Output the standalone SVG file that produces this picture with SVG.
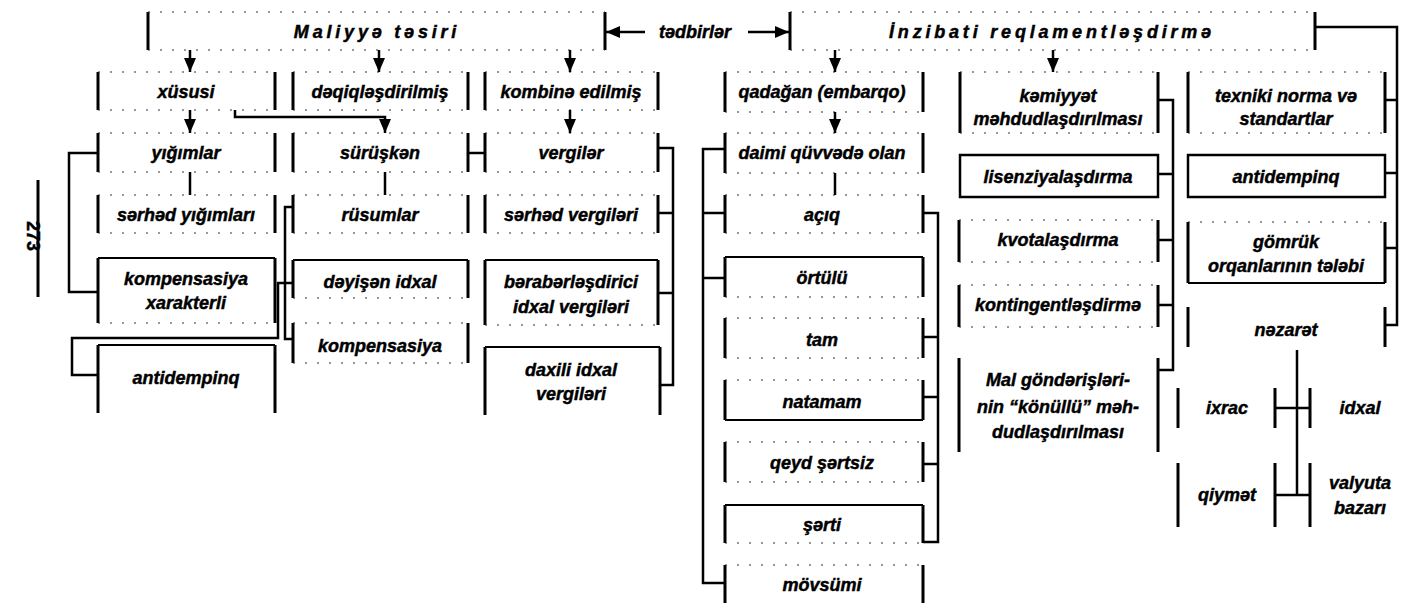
<svg xmlns="http://www.w3.org/2000/svg" width="1404" height="603" viewBox="0 0 1404 603">
<style>
.s{stroke:#000;stroke-width:3;stroke-linecap:butt}
.d{stroke:#333;stroke-width:1.2;stroke-dasharray:2 10}
.t{stroke:#000;stroke-width:2.2}
.c{stroke:#000;stroke-width:2.5;fill:none}
.a{stroke:#000;stroke-width:2.5;fill:none;marker-end:url(#ah)}
text{font-family:"Liberation Sans",Arial,sans-serif;font-weight:bold;font-style:italic;font-size:18px;fill:#000;stroke:#000;stroke-width:0.45;text-anchor:middle}
.hd{letter-spacing:3.8px}
</style>
<defs>
<marker id="ah" markerUnits="userSpaceOnUse" markerWidth="14" markerHeight="12" refX="14" refY="6" orient="auto">
<path d="M0,0 L14,6 L0,12 z" fill="#000"/>
</marker>
</defs>
<rect width="1404" height="603" fill="#fff"/>

<g id="page-number">
<line class="s" x1="38" y1="180" x2="38" y2="297"/>
<text x="27" y="236" transform="rotate(90 27 236)" style="font-style:normal">273</text>
</g>

<g id="maliyye-tesiri">
<line class="s" x1="148" y1="12" x2="148" y2="50"/><line class="s" x1="605" y1="12" x2="605" y2="50"/>
<line class="d" x1="148" y1="12" x2="605" y2="12"/><line class="d" x1="148" y1="50" x2="605" y2="50"/>
<text class="hd" x="377" y="38">Maliyyə təsiri</text>
</g>
<g id="tedbirler"><text x="695" y="38">tədbirlər</text></g>
<g id="inzibati">
<line class="s" x1="790" y1="12" x2="790" y2="50"/><line class="s" x1="1315" y1="12" x2="1315" y2="50"/>
<line class="d" x1="790" y1="12" x2="1315" y2="12"/><line class="d" x1="790" y1="50" x2="1315" y2="50"/>
<text class="hd" x="1052" y="38">İnzibati reqlamentləşdirmə</text>
</g>

<!-- column A -->
<g id="xususi">
<line class="s" x1="98" y1="72" x2="98" y2="110"/><line class="s" x1="275" y1="72" x2="275" y2="110"/>
<line class="d" x1="98" y1="72" x2="275" y2="72"/><line class="d" x1="98" y1="110" x2="275" y2="110"/>
<text x="186" y="98">xüsusi</text>
</g>
<g id="yigimlar">
<line class="s" x1="98" y1="133" x2="98" y2="172"/><line class="s" x1="275" y1="133" x2="275" y2="172"/>
<line class="d" x1="98" y1="133" x2="275" y2="133"/><line class="d" x1="98" y1="172" x2="275" y2="172"/>
<text x="186" y="159">yığımlar</text>
</g>
<g id="serhed-yigimlari">
<line class="s" x1="98" y1="195" x2="98" y2="233"/><line class="s" x1="275" y1="195" x2="275" y2="233"/>
<line class="d" x1="98" y1="195" x2="275" y2="195"/><line class="d" x1="98" y1="233" x2="275" y2="233"/>
<text x="186" y="221">sərhəd yığımları</text>
</g>
<g id="kompensasiya-xarakterli">
<line class="s" x1="98" y1="258" x2="98" y2="323"/><line class="s" x1="275" y1="258" x2="275" y2="323"/>
<line class="t" x1="98" y1="258" x2="275" y2="258"/><line class="d" x1="98" y1="323" x2="275" y2="323"/>
<text x="186" y="285">kompensasiya</text><text x="186" y="309">xarakterli</text>
</g>
<g id="antidempinq-a">
<line class="s" x1="98" y1="345" x2="98" y2="413"/><line class="s" x1="275" y1="345" x2="275" y2="413"/>
<line class="t" x1="98" y1="345" x2="275" y2="345"/>
<text x="186" y="384">antidempinq</text>
</g>

<!-- column B -->
<g id="deqiqlesdirilmis">
<line class="s" x1="293" y1="72" x2="293" y2="110"/><line class="s" x1="468" y1="72" x2="468" y2="110"/>
<line class="d" x1="293" y1="72" x2="468" y2="72"/><line class="d" x1="293" y1="110" x2="468" y2="110"/>
<text x="380" y="98">dəqiqləşdirilmiş</text>
</g>
<g id="suruskan">
<line class="s" x1="293" y1="133" x2="293" y2="172"/><line class="s" x1="468" y1="133" x2="468" y2="172"/>
<line class="d" x1="293" y1="133" x2="468" y2="133"/><line class="d" x1="293" y1="172" x2="468" y2="172"/>
<text x="380" y="159">sürüşkən</text>
</g>
<g id="rusumlar">
<line class="s" x1="293" y1="195" x2="293" y2="233"/><line class="s" x1="468" y1="195" x2="468" y2="233"/>
<line class="d" x1="293" y1="195" x2="468" y2="195"/><line class="d" x1="293" y1="233" x2="468" y2="233"/>
<text x="380" y="221">rüsumlar</text>
</g>
<g id="deyisen-idxal">
<line class="s" x1="293" y1="260" x2="293" y2="298"/><line class="s" x1="468" y1="260" x2="468" y2="298"/>
<line class="t" x1="293" y1="260" x2="468" y2="260"/><line class="d" x1="293" y1="298" x2="468" y2="298"/>
<text x="380" y="288">dəyişən idxal</text>
</g>
<g id="kompensasiya">
<line class="s" x1="293" y1="323" x2="293" y2="363"/><line class="s" x1="468" y1="323" x2="468" y2="363"/>
<line class="d" x1="293" y1="323" x2="468" y2="323"/><line class="d" x1="293" y1="363" x2="468" y2="363"/>
<text x="380" y="352">kompensasiya</text>
</g>

<!-- column C -->
<g id="kombine-edilmis">
<line class="s" x1="485" y1="72" x2="485" y2="110"/><line class="s" x1="658" y1="72" x2="658" y2="110"/>
<line class="d" x1="485" y1="72" x2="658" y2="72"/><line class="d" x1="485" y1="110" x2="658" y2="110"/>
<text x="571" y="98">kombinə edilmiş</text>
</g>
<g id="vergiler">
<line class="s" x1="485" y1="133" x2="485" y2="172"/><line class="s" x1="658" y1="133" x2="658" y2="172"/>
<line class="d" x1="485" y1="133" x2="658" y2="133"/><line class="d" x1="485" y1="172" x2="658" y2="172"/>
<text x="571" y="159">vergilər</text>
</g>
<g id="serhed-vergileri">
<line class="s" x1="485" y1="195" x2="485" y2="233"/><line class="s" x1="658" y1="195" x2="658" y2="233"/>
<line class="d" x1="485" y1="195" x2="658" y2="195"/><line class="d" x1="485" y1="233" x2="658" y2="233"/>
<text x="571" y="221">sərhəd vergiləri</text>
</g>
<g id="beraberlesdirici">
<line class="s" x1="485" y1="260" x2="485" y2="325"/><line class="s" x1="658" y1="260" x2="658" y2="325"/>
<line class="t" x1="485" y1="260" x2="658" y2="260"/><line class="d" x1="485" y1="325" x2="658" y2="325"/>
<text x="571" y="288">bərabərləşdirici</text><text x="571" y="313">idxal vergiləri</text>
</g>
<g id="daxili-idxal">
<line class="s" x1="485" y1="347" x2="485" y2="415"/><line class="s" x1="660" y1="347" x2="660" y2="415"/>
<line class="t" x1="485" y1="347" x2="660" y2="347"/>
<text x="571" y="376">daxili idxal</text><text x="571" y="400">vergiləri</text>
</g>

<!-- column D -->
<g id="qadagan">
<line class="s" x1="725" y1="72" x2="725" y2="112"/><line class="s" x1="923" y1="72" x2="923" y2="112"/>
<line class="d" x1="725" y1="72" x2="923" y2="72"/><line class="d" x1="725" y1="112" x2="923" y2="112"/>
<text x="822" y="98">qadağan (embarqo)</text>
</g>
<g id="daimi">
<line class="s" x1="725" y1="133" x2="725" y2="173"/><line class="s" x1="923" y1="133" x2="923" y2="173"/>
<line class="d" x1="725" y1="133" x2="923" y2="133"/><line class="d" x1="725" y1="173" x2="923" y2="173"/>
<text x="822" y="159">daimi qüvvədə olan</text>
</g>
<g id="aciq">
<line class="s" x1="725" y1="195" x2="725" y2="233"/><line class="s" x1="923" y1="195" x2="923" y2="233"/>
<line class="d" x1="725" y1="195" x2="923" y2="195"/><line class="d" x1="725" y1="233" x2="923" y2="233"/>
<text x="822" y="221">açıq</text>
</g>
<g id="ortulu">
<line class="s" x1="725" y1="257" x2="725" y2="297"/><line class="s" x1="923" y1="257" x2="923" y2="297"/>
<line class="t" x1="725" y1="257" x2="923" y2="257"/><line class="d" x1="725" y1="297" x2="923" y2="297"/>
<text x="822" y="284">örtülü</text>
</g>
<g id="tam">
<line class="s" x1="725" y1="318" x2="725" y2="358"/><line class="s" x1="923" y1="318" x2="923" y2="358"/>
<line class="d" x1="725" y1="318" x2="923" y2="318"/><line class="d" x1="725" y1="358" x2="923" y2="358"/>
<text x="822" y="346">tam</text>
</g>
<g id="natamam">
<line class="s" x1="725" y1="380" x2="725" y2="420"/><line class="s" x1="923" y1="380" x2="923" y2="420"/>
<line class="d" x1="725" y1="380" x2="923" y2="380"/><line class="t" x1="725" y1="420" x2="923" y2="420"/>
<text x="822" y="408">natamam</text>
</g>
<g id="qeyd-sertsiz">
<line class="s" x1="725" y1="442" x2="725" y2="482"/><line class="s" x1="923" y1="442" x2="923" y2="482"/>
<line class="d" x1="725" y1="442" x2="923" y2="442"/><line class="d" x1="725" y1="482" x2="923" y2="482"/>
<text x="822" y="469">qeyd şərtsiz</text>
</g>
<g id="serti">
<line class="s" x1="725" y1="505" x2="725" y2="543"/><line class="s" x1="923" y1="505" x2="923" y2="543"/>
<line class="t" x1="725" y1="505" x2="923" y2="505"/><line class="d" x1="725" y1="543" x2="923" y2="543"/>
<text x="822" y="531">şərti</text>
</g>
<g id="movsumi">
<line class="s" x1="725" y1="565" x2="725" y2="603"/><line class="s" x1="923" y1="565" x2="923" y2="603"/>
<line class="d" x1="725" y1="565" x2="923" y2="565"/>
<text x="822" y="591">mövsümi</text>
</g>

<!-- column E -->
<g id="kemiyyet">
<line class="s" x1="960" y1="72" x2="960" y2="133"/><line class="s" x1="1158" y1="72" x2="1158" y2="133"/>
<line class="d" x1="960" y1="72" x2="1158" y2="72"/><line class="d" x1="960" y1="133" x2="1158" y2="133"/>
<text x="1058" y="102">kəmiyyət</text><text x="1058" y="125">məhdudlaşdırılması</text>
</g>
<g id="lisenziyalasdirma">
<rect x="960" y="155" width="198" height="42" fill="none" stroke="#000" stroke-width="2.5"/>
<text x="1058" y="183">lisenziyalaşdırma</text>
</g>
<g id="kvotalasdirma">
<line class="s" x1="959" y1="220" x2="959" y2="262"/><line class="s" x1="1158" y1="220" x2="1158" y2="262"/>
<line class="d" x1="959" y1="220" x2="1158" y2="220"/><line class="d" x1="959" y1="262" x2="1158" y2="262"/>
<text x="1058" y="246">kvotalaşdırma</text>
</g>
<g id="kontingentlesdirme">
<line class="s" x1="959" y1="285" x2="959" y2="327"/><line class="s" x1="1158" y1="285" x2="1158" y2="327"/>
<line class="d" x1="959" y1="285" x2="1158" y2="285"/><line class="d" x1="959" y1="327" x2="1158" y2="327"/>
<text x="1058" y="311">kontingentləşdirmə</text>
</g>
<g id="mal-gonderisleri">
<line class="s" x1="959" y1="358" x2="959" y2="452"/><line class="s" x1="1158" y1="358" x2="1158" y2="452"/>
<text x="1058" y="386">Mal göndərişləri-</text><text x="1058" y="413">nin “könüllü” məh-</text><text x="1058" y="438">dudlaşdırılması</text>
</g>

<!-- column F -->
<g id="texniki">
<line class="s" x1="1188" y1="72" x2="1188" y2="133"/><line class="s" x1="1385" y1="72" x2="1385" y2="133"/>
<line class="d" x1="1188" y1="72" x2="1385" y2="72"/><line class="d" x1="1188" y1="133" x2="1385" y2="133"/>
<text x="1286" y="102">texniki norma və</text><text x="1286" y="125">standartlar</text>
</g>
<g id="antidempinq-b">
<rect x="1188" y="155" width="197" height="42" fill="none" stroke="#000" stroke-width="2.5"/>
<text x="1286" y="183">antidempinq</text>
</g>
<g id="gomruk">
<line class="s" x1="1188" y1="222" x2="1188" y2="283"/><line class="s" x1="1385" y1="222" x2="1385" y2="283"/>
<line class="d" x1="1188" y1="222" x2="1385" y2="222"/><line class="t" x1="1188" y1="283" x2="1385" y2="283"/>
<text x="1286" y="248">gömrük</text><text x="1286" y="272">orqanlarının tələbi</text>
</g>
<g id="nezaret">
<line class="s" x1="1188" y1="307" x2="1188" y2="347"/><line class="s" x1="1385" y1="307" x2="1385" y2="347"/>
<text x="1286" y="336">nəzarət</text>
</g>
<g id="ixrac"><line class="s" x1="1178" y1="388" x2="1178" y2="428"/><text x="1227" y="414">ixrac</text></g>
<g id="idxal"><text x="1360" y="414">idxal</text></g>
<g id="qiymet"><line class="s" x1="1178" y1="463" x2="1178" y2="527"/><text x="1227" y="501">qiymət</text></g>
<g id="valyuta-bazari"><text x="1360" y="489">valyuta</text><text x="1360" y="514">bazarı</text></g>

<g id="connectors">
<path class="a" d="M645,32 H606"/>
<path class="a" d="M748,32 H789"/>
<path class="a" d="M190,50 V72"/>
<path class="a" d="M379,50 V72"/>
<path class="a" d="M570,50 V72"/>
<path class="a" d="M835,50 V72"/>
<path class="a" d="M1053,50 V72"/>
<path class="a" d="M190,110 V133"/>
<path class="a" d="M570,110 V133"/>
<path class="a" d="M835,112 V133"/>
<path class="a" d="M235,110 V117 H385 V133"/>
<path class="c" d="M190,172 V195"/>
<path class="c" d="M385,172 V195"/>
<path class="c" d="M835,173 V195"/>
<path class="c" d="M468,153 H485"/>
<path class="c" d="M98,153 H69 V292 H98"/>
<path class="c" d="M98,375 H72 V338 H278 V283 H293"/>
<path class="c" d="M293,207 H285 V339 H293"/>
<path class="c" d="M658,148 H673 V385 H660 M658,213 H673 M658,293 H673"/>
<path class="c" d="M725,149 H703 V583 H725 M703,213 H725 M703,278 H725"/>
<path class="c" d="M923,213 H938 V542 H923 M923,337 H938 M923,397 H938 M923,464 H938"/>
<path class="c" d="M1158,100 H1173 V370 H1158 M1158,174 H1173 M1158,240 H1173 M1158,305 H1173"/>
<path class="c" d="M1315,27 H1397 V325 H1385 M1385,100 H1397 M1385,173 H1397 M1385,248 H1397"/>
<path class="c" d="M1297,350 V495"/>
<path class="s" d="M1275,388 V428 M1310,388 V428 M1275,463 V527 M1310,463 V527"/>
<path class="c" d="M1275,408 H1310 M1275,495 H1310"/>
</g>
</svg>
